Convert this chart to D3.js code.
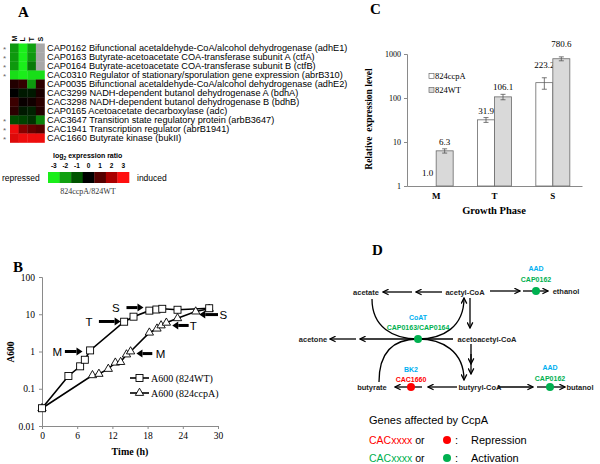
<!DOCTYPE html>
<html><head><meta charset="utf-8">
<script src="https://cdn.jsdelivr.net/npm/d3@7"></script>
<style>html,body{margin:0;padding:0;background:#fff;} svg{display:block;}</style>
</head><body><svg id="c" width="600" height="464"></svg>
<script>
// ---------- Panel A data ----------
const genes = [
  "CAP0162 Bifunctional acetaldehyde-CoA/alcohol dehydrogenase (adhE1)",
  "CAP0163 Butyrate-acetoacetate COA-transferase subunit A (ctfA)",
  "CAP0164 Butyrate-acetoacetate COA-transferase subunit B (ctfB)",
  "CAC0310 Regulator of stationary/sporulation gene expression (abrB310)",
  "CAP0035 Bifunctional acetaldehyde-CoA/alcohol dehydrogenase (adhE2)",
  "CAC3299 NADH-dependent butanol dehydrogenase A (bdhA)",
  "CAC3298 NADH-dependent butanol dehydrogenase B (bdhB)",
  "CAP0165 Acetoacetate decarboxylase (adc)",
  "CAC3647 Transition state regulatory protein (arbB3647)",
  "CAC1941 Transcription regulator (abrB1941)",
  "CAC1660 Butyrate kinase (bukII)"
];
const starred = [1,1,1,1,0,0,0,0,1,1,1];
const phasesA = ["M","L","T","S"];
const heatM = [-1.9,-1.9,-1.9,-2.8, 0.4, 0.0, 0.7, 0.5,-0.9, 2.8, 2.6];
const heatL = [-3.0,-3.0,-3.0,-3.0, 0.6,-0.3, 0.1,-0.3,-0.8, 1.6, 2.8];
const heatT = [-2.0,-1.9,-1.5,-2.8,-1.9,-0.3, 0.2,-0.4,-0.6, 1.2, 2.8];
const heatS = [null,null,null,-2.8, 0.5, 0.3, 0.5, 0.4,-1.6, 1.0, 2.8];
const legendTicks = [-3,-2,-1,0,1,2,3];

// ---------- Panel B data ----------
const wtTime  = [0, 4.5, 6.5, 7.3, 8.2, 14.0, 15.6, 18.3, 19.5, 20.5, 23.1, 28.5];
const wtA600  = [0.03, 0.22, 0.40, 0.60, 1.07, 6.3, 8.6, 12.5, 13.4, 14.0, 13.2, 14.5];
const ccpTime = [0, 8.6, 9.7, 11.3, 12.5, 13.4, 14.4, 15.1, 18.3, 19.6, 20.3, 21.2, 23.1, 26.2, 28.5];
const ccpA600 = [0.03, 0.23, 0.25, 0.34, 0.50, 0.52, 0.83, 1.0, 3.2, 4.1, 5.0, 5.9, 7.8, 11.8, 14.0];
const timeTicks = [0, 6, 12, 18, 24, 30];
const a600Ticks = [0.01, 0.1, 1, 10, 100];
// phase arrows: label, label time, arrow start time, arrow end time, A600 level
const arrowLabel = ["M","T","S","M","T","S"];
const arrowText  = [2.6, 8.0, 12.6, 20.2, 25.8, 30.9];
const arrowFrom  = [3.9, 9.7, 14.4, 18.8, 25.0, 30.0];
const arrowTo    = [6.9, 13.4, 17.3, 16.1, 22.2, 26.8];
const arrowLevel = [1.0, 6.4, 15.1, 0.88, 5.0, 9.8];

// ---------- Panel C data ----------
const phasesC = ["M","T","S"];
const ccpaExpr = [1.0, 31.9, 223.2];
const wtExpr   = [6.3, 106.1, 780.6];
const ccpaErr  = [0, 4, 65];
const wtErr    = [0.7, 15, 80];
const exprTicks = [1, 10, 100, 1000];

const SERIF = "'Liberation Serif','Times New Roman',serif";
const SANS = "'Liberation Sans',Arial,sans-serif";
const svg = d3.select("#c");

// ================= Panel A =================
const gA = svg.append("g");
gA.append("text").attr("x",18).attr("y",17).text("A")
  .attr("font-family",SERIF).attr("font-weight","bold").attr("font-size",15);
const xA = d3.scaleBand().domain(phasesA).range([10,44.5]);
const yA = d3.scaleBand().domain(genes).range([43.5,142.5]);
const colorA = d3.scaleLinear().domain(legendTicks)
  .range(["#1aee1a","#10a010","#005400","#000000","#550000","#aa0000","#ff1010"]).clamp(true);
const heatCols = [heatM, heatL, heatT, heatS];
phasesA.forEach((p,j)=>{
  gA.selectAll(null).data(genes).enter().append("rect")
    .attr("x",xA(p)).attr("y",d=>yA(d)).attr("width",xA.bandwidth()+0.3).attr("height",yA.bandwidth()+0.3)
    .attr("fill",(d,i)=> heatCols[j][i]==null ? "#a8a8a8" : colorA(heatCols[j][i]));
  gA.append("text").attr("transform",`translate(${xA(p)+xA.bandwidth()/2+2.5},41.5) rotate(-90)`)
    .text(p).attr("font-family",SANS).attr("font-weight","bold").attr("font-size",7);
});
gA.selectAll(null).data(genes).enter().append("text")
  .attr("x",47).attr("y",d=>yA(d)+yA.bandwidth()/2).attr("dy","0.36em")
  .attr("font-family",SANS).attr("font-size",9.2).text(d=>d);
gA.selectAll(null).data(genes.filter((g,i)=>starred[i])).enter().append("text")
  .attr("x",3).attr("y",d=>yA(d)+yA.bandwidth()/2+4).text("*")
  .attr("font-family",SANS).attr("font-size",8).attr("fill","#666");
// legend
const xL = d3.scaleBand().domain(legendTicks).range([48,129]);
gA.selectAll(null).data(legendTicks).enter().append("rect")
  .attr("x",d=>xL(d)).attr("y",172).attr("width",xL.bandwidth()+0.3).attr("height",11)
  .attr("fill",d=>colorA(d));
gA.selectAll(null).data(legendTicks).enter().append("text")
  .attr("x",d=>xL(d)+xL.bandwidth()/2).attr("y",168).attr("text-anchor","middle")
  .attr("font-family",SANS).attr("font-size",6.5).attr("font-weight","bold").text(d=>d);
const lt = gA.append("text").attr("x",53).attr("y",158).attr("font-family",SANS).attr("font-size",7).attr("font-weight","bold");
lt.append("tspan").text("log");
lt.append("tspan").attr("font-size",5).attr("dy",1.5).text("2");
lt.append("tspan").attr("dy",-1.5).text(" expression ratio");
gA.append("text").attr("x",2).attr("y",181).text("repressed").attr("font-family",SANS).attr("font-size",8.5);
gA.append("text").attr("x",137).attr("y",181).text("induced").attr("font-family",SANS).attr("font-size",8.5);
gA.append("text").attr("x",88).attr("y",194).attr("text-anchor","middle").text("824ccpA/824WT")
  .attr("font-family",SERIF).attr("font-size",8).attr("fill","#333");

// ================= Panel B =================
const gB = svg.append("g");
gB.append("text").attr("x",13).attr("y",272).text("B")
  .attr("font-family",SERIF).attr("font-weight","bold").attr("font-size",15);
const xB = d3.scaleLinear().domain([0,30]).range([42,218]);
const yB = d3.scaleLog().domain([0.01,100]).range([426,277]);
const axB1 = gB.append("g").attr("transform","translate(0,426)")
  .call(d3.axisBottom(xB).tickValues(timeTicks).tickSize(3).tickPadding(3));
const axB2 = gB.append("g").attr("transform","translate(42,0)")
  .call(d3.axisLeft(yB).tickValues(a600Ticks).tickFormat(d=>String(d)).tickSize(3).tickPadding(4));
[axB1,axB2].forEach(a=>{
  a.selectAll("path,line").attr("stroke","#8a8a8a");
  a.selectAll("text").attr("font-family",SERIF).attr("font-size",9.5).attr("fill","#000");
});
gB.append("text").attr("transform","translate(14,352) rotate(-90)").attr("text-anchor","middle")
  .text("A600").attr("font-family",SERIF).attr("font-weight","bold").attr("font-size",9.5);
gB.append("text").attr("x",130).attr("y",455).attr("text-anchor","middle")
  .text("Time (h)").attr("font-family",SERIF).attr("font-weight","bold").attr("font-size",10);
const lineB = d3.line().x(d=>xB(d[0])).y(d=>yB(d[1]));
const wtPts = wtTime.map((t,i)=>[t,wtA600[i]]);
const ccpPts = ccpTime.map((t,i)=>[t,ccpA600[i]]);
gB.append("path").attr("d",lineB(ccpPts)).attr("fill","none").attr("stroke","#000").attr("stroke-width",1.6);
gB.append("path").attr("d",lineB(wtPts)).attr("fill","none").attr("stroke","#000").attr("stroke-width",1.6);
const tri = d3.symbol(d3.symbolTriangle).size(30)();
gB.selectAll(null).data(ccpPts).enter().append("path").attr("d",tri)
  .attr("transform",d=>`translate(${xB(d[0])},${yB(d[1])})`)
  .attr("fill","#fff").attr("stroke","#000").attr("stroke-width",0.9);
gB.selectAll(null).data(wtPts).enter().append("rect")
  .attr("x",d=>xB(d[0])-3.5).attr("y",d=>yB(d[1])-3.5).attr("width",7).attr("height",7)
  .attr("fill","#fff").attr("stroke","#000").attr("stroke-width",0.9);
// phase arrows
arrowLabel.forEach((lab,i)=>{
  const x1 = xB(arrowFrom[i]), x2 = xB(arrowTo[i]), y = yB(arrowLevel[i]);
  const dir = x2 > x1 ? 1 : -1;
  const xh = x2 - dir*6;
  gB.append("line").attr("x1",x1).attr("x2",xh).attr("y1",y).attr("y2",y)
    .attr("stroke","#000").attr("stroke-width",3);
  gB.append("path").attr("d",`M${xh},${y-4}L${x2},${y}L${xh},${y+4}Z`).attr("fill","#000");
  gB.append("text").attr("x",xB(arrowText[i])).attr("y",y).attr("dy","0.36em").attr("text-anchor","middle")
    .text(lab).attr("font-family",SANS).attr("font-size",11.5);
});
// legend B
[["A600 (824WT)",378,"sq"],["A600 (824ccpA)",393,"tri"]].forEach(([lab,y,m])=>{
  gB.append("line").attr("x1",130).attr("x2",149).attr("y1",y).attr("y2",y).attr("stroke","#000").attr("stroke-width",1.6);
  if(m==="sq") gB.append("rect").attr("x",136).attr("y",y-3.5).attr("width",7).attr("height",7).attr("fill","#fff").attr("stroke","#000").attr("stroke-width",0.9);
  else gB.append("path").attr("d",tri).attr("transform",`translate(139.5,${y})`).attr("fill","#fff").attr("stroke","#000").attr("stroke-width",0.9);
  gB.append("text").attr("x",151).attr("y",y+3.5).text(lab).attr("font-family",SERIF).attr("font-size",10);
});

// ================= Panel C =================
const gC = svg.append("g");
gC.append("text").attr("x",370).attr("y",14).text("C")
  .attr("font-family",SERIF).attr("font-weight","bold").attr("font-size",15);
const yC = d3.scaleLog().domain([1,1000]).range([186,54]);
const xC = d3.scaleBand().domain(phasesC).range([407,582]);
const bw = 17;
const axC1 = gC.append("g").attr("transform","translate(0,186)").call(d3.axisBottom(xC).tickSize(0).tickPadding(7));
const axC2 = gC.append("g").attr("transform","translate(407,0)").call(d3.axisLeft(yC).tickValues(exprTicks).tickFormat(d3.format("d")).tickSize(3).tickPadding(3));
axC1.selectAll("text").attr("font-family",SERIF).attr("font-size",9).attr("font-weight","bold").attr("fill","#000");
axC2.selectAll("text").attr("font-family",SERIF).attr("font-size",8).attr("fill","#000");
[axC1,axC2].forEach(a=>a.selectAll("path,line").attr("stroke","#8a8a8a"));
gC.append("text").attr("transform","translate(372,119) rotate(-90)").attr("text-anchor","middle")
  .attr("xml:space","preserve").text("Relative  expression level")
  .attr("font-family",SERIF).attr("font-weight","bold").attr("font-size",9.5);
gC.append("text").attr("x",494).attr("y",214).attr("text-anchor","middle").text("Growth Phase")
  .attr("font-family",SERIF).attr("font-weight","bold").attr("font-size",10.5);
const cx = p => xC(p)+xC.bandwidth()/2;
const series = [
  {vals:ccpaExpr, errs:ccpaErr, fill:"#ffffff", off:-bw},
  {vals:wtExpr, errs:wtErr, fill:"#d9d9d9", off:0}
];
series.forEach(s=>{
  phasesC.forEach((p,i)=>{
    const v=s.vals[i], e=s.errs[i], x=cx(p)+s.off;
    if (yC(v) < 186) gC.append("rect").attr("x",x).attr("y",yC(v)).attr("width",bw).attr("height",186-yC(v))
      .attr("fill",s.fill).attr("stroke","#6a6a6a").attr("stroke-width",0.8);
    if (e>0){
      const xm = x+bw/2;
      gC.append("line").attr("x1",xm).attr("x2",xm).attr("y1",yC(v-e)).attr("y2",yC(v+e)).attr("stroke","#555").attr("stroke-width",0.8);
      [v-e,v+e].forEach(q=>gC.append("line").attr("x1",xm-2.5).attr("x2",xm+2.5).attr("y1",yC(q)).attr("y2",yC(q)).attr("stroke","#555").attr("stroke-width",0.8));
    }
    const ly = e>0 ? yC(v+e)-4 - (v>150?6:0) : yC(v)-10;
    gC.append("text").attr("x",x+bw/2).attr("y",ly).attr("text-anchor","middle").text(v.toFixed(1))
      .attr("font-family",SERIF).attr("font-size",9);
  });
});
[["824ccpA",76,"#ffffff"],["824WT",90,"#d9d9d9"]].forEach(([lab,y,f])=>{
  gC.append("rect").attr("x",429).attr("y",y-2.5).attr("width",5).attr("height",5).attr("fill",f).attr("stroke","#6a6a6a").attr("stroke-width",0.7);
  gC.append("text").attr("x",435).attr("y",y+3).text(lab).attr("font-family",SERIF).attr("font-size",8.5);
});

// ================= Panel D =================
const gD = svg.append("g");
gD.append("text").attr("x",372).attr("y",255).text("D")
  .attr("font-family",SERIF).attr("font-weight","bold").attr("font-size",15);
const defs = svg.append("defs");
defs.append("marker").attr("id","ah").attr("viewBox","0 0 10 10").attr("refX",9).attr("refY",5)
  .attr("markerWidth",7).attr("markerHeight",7).attr("markerUnits","userSpaceOnUse").attr("orient","auto")
  .append("path").attr("d","M1,1L9,5L1,9").attr("fill","none").attr("stroke","#000").attr("stroke-width",1.8);
const BLUE="#00b0f0", GREEN="#00b050", RED="#ff0000";
const nodes = [
  ["acetate",366,292],["acetyl-CoA",465,292],["ethanol",566,291],
  ["acetone",313,339],["acetoacetyl-CoA",487,339],
  ["butyrate",372,387],["butyryl-CoA",480,387],["butanol",580,387]
];
nodes.forEach(([t,x,y])=>gD.append("text").attr("x",x).attr("y",y).attr("dy","0.36em").attr("text-anchor","middle")
  .text(t).attr("font-family",SANS).attr("font-weight","bold").attr("font-size",7.5).attr("fill","#222"));
const arrows = [
  "M412,292L383,292","M442,292L416,292",
  "M490,291L520,291","M523,291L548,291",
  "M470,298L470,328",
  "M453,339L360,339","M356,339L330,339",
  "M471,344L471,364","M471,354L471,374",
  "M457,387L428,387","M422,387L395,387",
  "M498,387L533,387","M537,387L565,387",
  "M372,299C372,327 393,339 418,339C443,339 464,327 464,298",
  "M379,382C379,351 394,339 418,339C442,339 464,351 464,380"
];
arrows.forEach(d=>gD.append("path").attr("d",d).attr("fill","none").attr("stroke","#000").attr("stroke-width",1.3).attr("marker-end","url(#ah)"));
const dots = [[536,291,GREEN],[418,339,GREEN],[411,387,RED],[550,387,GREEN]];
dots.forEach(([x,y,c])=>gD.append("circle").attr("cx",x).attr("cy",y).attr("r",4).attr("fill",c));
const enz = [
  ["AAD",536,268,BLUE],["CAP0162",536,279,GREEN],
  ["CoAT",418,317,BLUE],["CAP0163/CAP0164",418,327,GREEN],
  ["BK2",411,369,BLUE],["CAC1660",411,379,RED],
  ["AAD",550,367,BLUE],["CAP0162",550,378,GREEN]
];
enz.forEach(([t,x,y,c])=>gD.append("text").attr("x",x).attr("y",y).attr("dy","0.36em").attr("text-anchor","middle")
  .text(t).attr("font-family",SANS).attr("font-weight","bold").attr("font-size",7).attr("fill",c));
gD.append("text").attr("x",369).attr("y",424).text("Genes affected by CcpA").attr("font-family",SANS).attr("font-size",11);
[["Repression",444,RED],["Activation",462,GREEN]].forEach(([lab,y,c])=>{
  const t1 = gD.append("text").attr("x",369).attr("y",y).text("CACxxxx").attr("font-family",SANS).attr("font-size",10.5).attr("fill",c);
  const w = t1.node().getComputedTextLength();
  gD.append("text").attr("x",369+w+3).attr("y",y).text("or").attr("font-family",SANS).attr("font-size",10.5);
  gD.append("circle").attr("cx",447).attr("cy",y-4).attr("r",4).attr("fill",c);
  gD.append("text").attr("x",455).attr("y",y).text(":").attr("font-family",SANS).attr("font-size",11);
  gD.append("text").attr("x",471).attr("y",y).text(lab).attr("font-family",SANS).attr("font-size",11);
});
</script></body></html>
